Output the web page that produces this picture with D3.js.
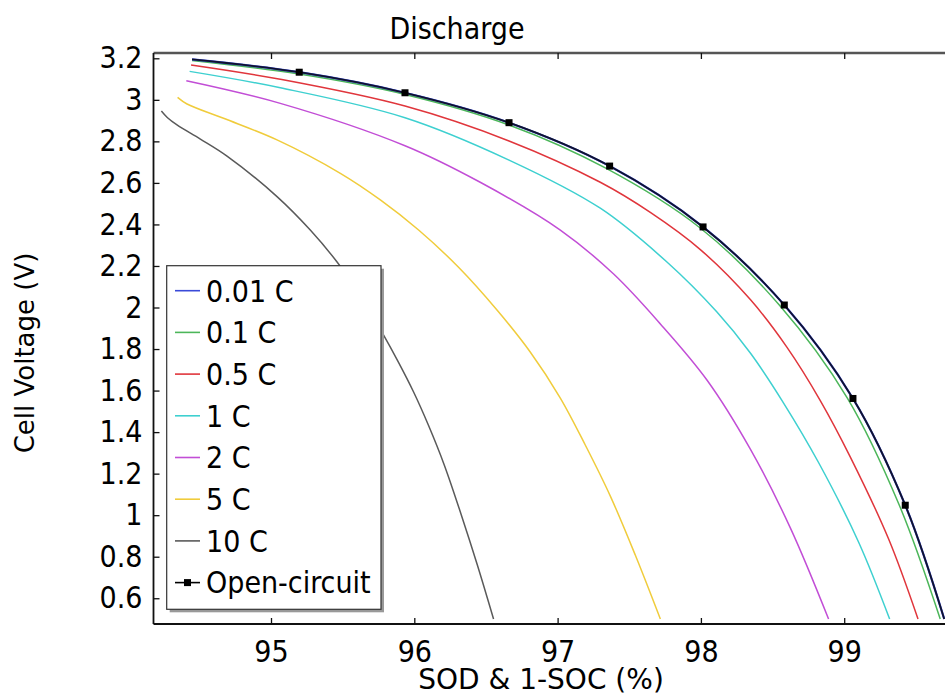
<!DOCTYPE html>
<html>
<head>
<meta charset="utf-8">
<script src="https://cdn.jsdelivr.net/npm/d3@7/dist/d3.min.js"></script>
<style>
  html, body { margin: 0; padding: 0; background: #fff; }
  svg { display: block; }
  .lbl { font-family: "DejaVu Sans Condensed", "DejaVu Sans", sans-serif; font-stretch: condensed; fill: #000; }
</style>
</head>
<body>
<svg id="chart" width="945" height="697"></svg>
<script>
// Discharge curves: cell voltage vs SOD & 1-SOC for several C-rates
const seriesNames = ["0.01 C", "0.1 C", "0.5 C", "1 C", "2 C", "5 C", "10 C", "Open-circuit"];
const seriesColors = ["#3a4ad8", "#4cb65a", "#e0363c", "#3ed0d0", "#c24ed6", "#f0cc3c", "#5a5a5a", "#10132e"];

// [SOD %, voltage V]
const rate001 = [[94.449,3.195],[95.197,3.133],[95.935,3.034],[96.661,2.890],[97.363,2.681],[98.015,2.388],[98.582,2.012],[99.061,1.562],[99.426,1.048],[99.698,0.500]];
const rate01 = [[94.449,3.189],[95.197,3.124],[95.935,3.026],[96.661,2.879],[97.333,2.672],[97.995,2.383],[98.547,2.012],[99.022,1.564],[99.384,1.049],[99.670,0.500]];
const rate05 = [[94.442,3.168],[95.065,3.099],[95.935,2.970],[96.661,2.802],[97.298,2.603],[97.647,2.458],[97.996,2.279],[98.345,2.038],[98.601,1.808],[98.833,1.552],[99.042,1.281],[99.310,0.885],[99.515,0.500]];
const rate1 = [[94.432,3.137],[95.065,3.058],[95.935,2.914],[96.661,2.710],[97.298,2.478],[97.763,2.219],[98.112,1.978],[98.345,1.781],[98.577,1.540],[98.819,1.256],[99.100,0.871],[99.317,0.500]];
const rate2 = [[94.409,3.092],[95.065,2.983],[95.935,2.779],[96.460,2.603],[97.019,2.373],[97.391,2.161],[97.717,1.921],[98.042,1.651],[98.345,1.318],[98.624,0.939],[98.891,0.500]];
const rate5 = [[94.348,3.012],[94.414,2.980],[94.669,2.911],[95.042,2.807],[95.484,2.646],[95.763,2.518],[96.030,2.373],[96.307,2.195],[96.577,1.988],[96.809,1.786],[97.019,1.564],[97.193,1.338],[97.368,1.092],[97.542,0.808],[97.717,0.500]];
const rate10 = [[94.235,2.946],[94.276,2.915],[94.344,2.879],[94.507,2.811],[94.693,2.729],[95.042,2.534],[95.274,2.373],[95.461,2.219],[95.623,2.058],[95.775,1.880],[95.888,1.738],[95.995,1.593],[96.098,1.434],[96.209,1.242],[96.328,1.001],[96.440,0.760],[96.553,0.500]];
const openCircuit = [[94.449,3.195],[95.197,3.133],[95.935,3.034],[96.661,2.890],[97.363,2.681],[98.015,2.388],[98.582,2.012],[99.061,1.562],[99.426,1.048],[99.698,0.500]];
// marker positions along the open-circuit curve
const ocMarkers = [[95.197,3.133],[95.935,3.034],[96.661,2.890],[97.363,2.681],[98.015,2.388],[98.582,2.012],[99.061,1.562],[99.426,1.048]];

const xTicks = [95, 96, 97, 98, 99];
const xTickLabels = ["95", "96", "97", "98", "99"];
const yTicks = [0.6, 0.8, 1, 1.2, 1.4, 1.6, 1.8, 2, 2.2, 2.4, 2.6, 2.8, 3, 3.2];
const yTickLabels = ["0.6", "0.8", "1", "1.2", "1.4", "1.6", "1.8", "2", "2.2", "2.4", "2.6", "2.8", "3", "3.2"];

const allSeries = [rate001, rate01, rate05, rate1, rate2, rate5, rate10, openCircuit];

(function draw() {
  const svg = d3.select("#chart");
  const plotLeft = 153.5, plotTop = 53, plotBottom = 624;
  // the frame runs on past the right edge of the page
  const x = d3.scaleLinear().domain([94.18, 100]).range([plotLeft, plotLeft + 5.82 * 143.3]);
  const y = d3.scaleLinear().domain([0.476, 3.2255]).range([plotBottom, plotTop]);
  const plotRight = x(100);

  svg.append("defs").append("clipPath").attr("id", "plotClip")
    .append("rect").attr("x", plotLeft).attr("y", plotTop)
    .attr("width", plotRight - plotLeft).attr("height", plotBottom - plotTop);

  const plot = svg.append("g").attr("clip-path", "url(#plotClip)");
  const line = d3.line().x(d => x(d[0])).y(d => y(d[1])).curve(d3.curveCatmullRom.alpha(0.5));

  // fast rates first so the near-equilibrium curves sit on top
  const order = [6, 5, 4, 3, 2, 1, 0, 7];
  order.forEach(i => {
    plot.append("path")
      .datum(allSeries[i])
      .attr("d", line)
      .attr("fill", "none")
      .attr("stroke", seriesColors[i])
      .attr("stroke-width", i === 7 ? 1.8 : (i === 0 ? 2.2 : 1.5));
  });
  plot.selectAll("rect.ocm").data(ocMarkers).enter().append("rect")
    .attr("class", "ocm")
    .attr("x", d => x(d[0]) - 3.5).attr("y", d => y(d[1]) - 3.5)
    .attr("width", 7).attr("height", 7).attr("fill", "#000");

  // frame
  const frame = svg.append("g");
  frame.append("line").attr("x1", plotLeft).attr("x2", plotRight).attr("y1", plotTop).attr("y2", plotTop)
    .attr("stroke", "#555").attr("stroke-width", 2.5);
  frame.append("line").attr("x1", plotLeft).attr("x2", plotRight).attr("y1", plotBottom).attr("y2", plotBottom)
    .attr("stroke", "#111").attr("stroke-width", 1.8);
  frame.append("line").attr("x1", plotLeft).attr("x2", plotLeft).attr("y1", plotTop).attr("y2", plotBottom)
    .attr("stroke", "#111").attr("stroke-width", 1.8);

  // inward ticks
  const xAxisB = d3.axisBottom(x).tickValues(xTicks).tickSizeInner(-6).tickSizeOuter(0)
    .tickFormat((d, i) => xTickLabels[i]).tickPadding(17);
  const gxb = svg.append("g").attr("transform", `translate(0,${plotBottom})`).call(xAxisB);
  gxb.select(".domain").remove();
  gxb.selectAll("line").attr("stroke", "#111").attr("stroke-width", 1.3);
  gxb.selectAll("text").attr("class", "lbl").style("font-size", "30px");

  const xAxisT = d3.axisTop(x).tickValues(xTicks).tickSizeInner(-6).tickSizeOuter(0).tickFormat("");
  const gxt = svg.append("g").attr("transform", `translate(0,${plotTop})`).call(xAxisT);
  gxt.select(".domain").remove();
  gxt.selectAll("line").attr("stroke", "#111").attr("stroke-width", 1.3);

  const yAxis = d3.axisLeft(y).tickValues(yTicks).tickSizeInner(-6).tickSizeOuter(0)
    .tickFormat((d, i) => yTickLabels[i]).tickPadding(11);
  const gy = svg.append("g").attr("transform", `translate(${plotLeft},0)`).call(yAxis);
  gy.select(".domain").remove();
  gy.selectAll("line").attr("stroke", "#111").attr("stroke-width", 1.3);
  gy.selectAll("text").attr("class", "lbl").style("font-size", "30px");
  [gxb, gxt, gy].forEach(g => g.attr("font-family", null).attr("font-size", null));

  // title and axis labels
  svg.append("text").attr("class", "lbl").attr("x", 457).attr("y", 39)
    .attr("text-anchor", "middle").style("font-size", "30px").text("Discharge");
  svg.append("text").attr("class", "lbl").attr("x", 541).attr("y", 689)
    .attr("text-anchor", "middle").style("font-size", "28px").style("font-stretch", "normal")
    .style("font-family", "'DejaVu Sans', sans-serif").text("SOD & 1-SOC (%)");
  svg.append("text").attr("class", "lbl")
    .attr("transform", "translate(34,353) rotate(-90)")
    .attr("text-anchor", "middle").style("font-size", "26px").style("font-stretch", "normal")
    .style("font-family", "'DejaVu Sans', sans-serif").text("Cell Voltage (V)");

  // legend
  const lg = svg.append("g");
  const lx = 166.7, ly = 265.7, lw = 214.3, lh = 343.6;
  lg.append("rect").attr("x", lx + 3).attr("y", ly + 3).attr("width", lw).attr("height", lh).attr("fill", "#999");
  lg.append("rect").attr("x", lx).attr("y", ly).attr("width", lw).attr("height", lh)
    .attr("fill", "#fff").attr("stroke", "#333").attr("stroke-width", 1.2);
  const rowY = i => 290.7 + i * 41.7;
  seriesNames.forEach((name, i) => {
    lg.append("line").attr("x1", 175).attr("x2", 200).attr("y1", rowY(i)).attr("y2", rowY(i))
      .attr("stroke", i === 7 ? "#000" : seriesColors[i]).attr("stroke-width", 1.6);
    if (i === 7) {
      lg.append("rect").attr("x", 187.5 - 3.5).attr("y", rowY(i) - 3.5)
        .attr("width", 7).attr("height", 7).attr("fill", "#000");
    }
    lg.append("text").attr("class", "lbl").attr("x", 206).attr("y", rowY(i)).attr("dy", "0.36em")
      .style("font-size", "30px").text(name);
  });
})();
</script>
</body>
</html>
